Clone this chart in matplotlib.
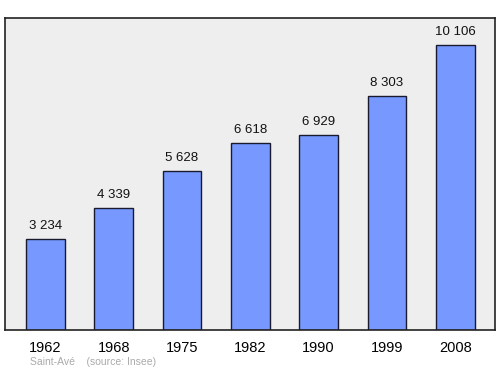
import matplotlib.pyplot as plt

plt.rcParams['font.family'] = ['Liberation Sans', 'DejaVu Sans']

# --- Data ---
years = ['1962', '1968', '1975', '1982', '1990', '1999', '2008']
population = [3234, 4339, 5628, 6618, 6929, 8303, 10106]
labels = ['3 234', '4 339', '5 628', '6 618', '6 929', '8 303', '10 106']

# --- Plot ---
fig = plt.figure(figsize=(5, 3.74), dpi=100)
ax = fig.add_axes([0.01, 0.118, 0.98, 0.834])
ax.set_facecolor('#eeeeee')

x = range(len(years))
ax.bar(x, population, width=0.57, color='#7799ff', edgecolor='#1a1a2e', linewidth=1, zorder=2)

for i, (v, lab) in enumerate(zip(population, labels)):
    ax.annotate(lab, (i, v), xytext=(0, 5), textcoords='offset points',
                ha='center', va='bottom', fontsize=9.5, color='#111111')

ax.set_xlim(-0.59, 6.58)
ax.set_ylim(0, 11063)
ax.set_yticks([])
ax.set_xticks(list(x))
ax.set_xticklabels(years, fontsize=10.5)
ax.tick_params(axis='x', length=0, pad=8)
for s in ax.spines.values():
    s.set_linewidth(1.2)
    s.set_color('#222222')

fig.text(0.06, 0.023, 'Saint-Avé    (source: Insee)', fontsize=7.5, color='#aaaaaa')

fig.savefig('out.png', dpi=100)
